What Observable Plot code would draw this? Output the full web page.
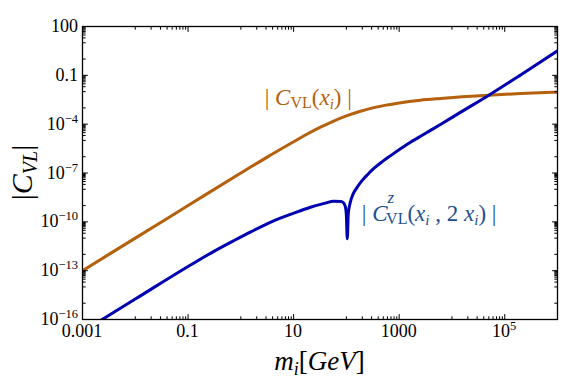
<!DOCTYPE html>
<html><head><meta charset="utf-8">
<script src="https://cdn.jsdelivr.net/npm/d3@7"></script>
<script src="https://cdn.jsdelivr.net/npm/@observablehq/plot@0.6"></script>
<style>html,body{margin:0;padding:0;background:#fff}svg{display:block}</style>
</head><body><div id="chart"></div>
<script>
// |C_VL(x_i)| (orange)
const orangeX = [0.001, 0.01, 0.1, 1, 3.16, 10, 17.8, 31.6, 56.2, 100, 178, 316, 562, 1000, 2510, 6170, 15800, 50100, 200000, 1000000];
const orangeY = [1e-13, 1e-11, 1e-9, 1e-7, 9.5e-7, 8.3e-6, 2.4e-5, 6.3e-5, 1.5e-4, 3.2e-4, 6.0e-4, 1.0e-3, 1.48e-3, 2.02e-3, 2.95e-3, 3.8e-3, 4.8e-3, 6.0e-3, 7.6e-3, 9.3e-3];
// |C^z_VL(x_i, 2x_i)| (blue)
const blueX = [0.001, 0.01, 0.1, 0.316, 0.733, 1.58, 3.98, 10, 20.9, 39.8, 57.5, 79.4, 89.1, 96, 99.5, 104, 108.6, 114.8, 120.2, 131.8, 158.5, 199.5, 251, 331, 479, 692, 1445, 2950, 6170, 15800, 50100, 200000, 1000000];
const blueY = [1.8e-17, 1.8e-15, 1.8e-13, 1.6e-12, 6.9e-12, 2.5e-11, 1.07e-10, 3.4e-10, 7.9e-10, 1.41e-9, 1.86e-9, 1.8e-9, 1.4e-9, 8.0e-10, 3.2e-10, 9.1e-12, 3.2e-10, 1.0e-9, 1.9e-9, 4.5e-9, 1.26e-8, 3.5e-8, 7.9e-8, 1.9e-7, 5.0e-7, 1.17e-6, 6.0e-6, 2.4e-5, 1.0e-4, 6.3e-4, 6.0e-3, 0.105, 3.2];

const xTicks = [0.001, 0.1, 10, 1000, 1e5];
const xTickLabels = [["0.001"], ["0.1"], ["10"], ["1000"], ["10", "5"]];
const yTicks = [100, 0.1, 1e-4, 1e-7, 1e-10, 1e-13, 1e-16];
const yTickLabels = [["100"], ["0.1"], ["10", "\u22124"], ["10", "\u22127"], ["10", "\u221210"], ["10", "\u221213"], ["10", "\u221216"]];

const orangeColor = "#b4600c";
const blueColor = "#0000b0";
const blueText = "#1d4f90";
const FONT = "Liberation Serif, Times New Roman, serif";

const orange = orangeX.map((x, i) => ({x, y: orangeY[i]}));
const blue = blueX.map((x, i) => ({x, y: blueY[i]}));

// minor ticks: every decade, plus 2..9 x 10^(k-1) under each labelled tick
function minorTicks(majors, lo, hi) {
  const out = [];
  for (let e = Math.round(Math.log10(lo)); e <= Math.round(Math.log10(hi)); e++) out.push(Math.pow(10, e));
  majors.forEach(m => { for (let k = 2; k <= 9; k++) { const v = k * m / 10; if (v > lo && v < hi) out.push(v); } });
  return out.filter(v => !majors.some(m => Math.abs(m - v) / m < 1e-9));
}
const xMinor = minorTicks(xTicks, 1e-3, 1e6);
const yMinor = minorTicks(yTicks, 1e-16, 100);

const tickShape = {draw(c, l) { c.moveTo(0, 0); c.lineTo(0, -l); }};
function ticks(vals, len) {
  const common = {length: len, anchor: "start", shape: tickShape, stroke: "black", strokeWidth: 1};
  return [
    Plot.vector(vals.x, {...common, x: d => d, frameAnchor: "bottom", rotate: 0}),
    Plot.vector(vals.x, {...common, x: d => d, frameAnchor: "top", rotate: 180}),
    Plot.vector(vals.y, {...common, y: d => d, frameAnchor: "left", rotate: 90}),
    Plot.vector(vals.y, {...common, y: d => d, frameAnchor: "right", rotate: -90})
  ];
}

const plot = Plot.plot({
  width: 566, height: 385,
  marginTop: 26, marginBottom: 66, marginLeft: 82, marginRight: 9,
  style: {background: "white", fontFamily: FONT},
  x: {type: "log", domain: [1e-3, 1e6], axis: null},
  y: {type: "log", domain: [1e-16, 100], axis: null},
  marks: [
    Plot.line(orange, {x: "x", y: "y", stroke: orangeColor, strokeWidth: 3, clip: true, curve: "monotone-x"}),
    Plot.line(blue, {x: "x", y: "y", stroke: blueColor, strokeWidth: 3, clip: true, curve: "monotone-x"}),
    ...ticks({x: xTicks, y: yTicks}, 5),
    ...ticks({x: xMinor, y: yMinor}, 2.8),
    Plot.frame({stroke: "black", strokeWidth: 1.3})
  ]
});
document.getElementById("chart").appendChild(plot);

const sx = plot.scale("x"), sy = plot.scale("y");
const svg = d3.select(plot);
const g = svg.append("g").attr("font-family", FONT).attr("fill", "black").attr("text-anchor", "start");

// x tick labels
xTicks.forEach((v, i) => {
  const lab = xTickLabels[i];
  const t = g.append("text").attr("x", sx.apply(v)).attr("y", 319 + 18).attr("text-anchor", "middle").attr("font-size", 18);
  t.append("tspan").text(lab[0]);
  if (lab[1]) t.append("tspan").attr("dy", -7).attr("font-size", 12.5).text(lab[1]);
});
// y tick labels
yTicks.forEach((v, i) => {
  const lab = yTickLabels[i];
  const t = g.append("text").attr("x", 78).attr("y", sy.apply(v) + 6).attr("text-anchor", "end").attr("font-size", 18);
  t.append("tspan").text(lab[0]);
  if (lab[1]) t.append("tspan").attr("dy", -7).attr("font-size", 12.5).text(lab[1]);
});

// axis titles
const xt = g.append("text").attr("x", (sx.apply(1e-3) + sx.apply(1e6)) / 2).attr("y", 370).attr("text-anchor", "middle").attr("font-size", 27);
xt.append("tspan").attr("font-style", "italic").text("m");
xt.append("tspan").attr("font-style", "italic").attr("font-size", 18).attr("dy", 5).text("i");
xt.append("tspan").attr("dy", -5).text("[");
xt.append("tspan").attr("font-style", "italic").text("GeV");
xt.append("tspan").text("]");

const yc = (sy.apply(1e-16) + sy.apply(100)) / 2;
const yt = g.append("text").attr("transform", `translate(32,${yc}) rotate(-90)`).attr("text-anchor", "middle").attr("font-size", 30);
yt.append("tspan").text("|");
yt.append("tspan").attr("font-style", "italic").text("C");
yt.append("tspan").attr("font-style", "italic").attr("font-size", 20).attr("dy", 5).text("VL");
yt.append("tspan").attr("dy", -5).text("|");

// curve labels
const ol = g.append("text").attr("x", sx.apply(2.9)).attr("y", sy.apply(1.4e-3)).attr("font-size", 23).attr("fill", orangeColor);
ol.append("tspan").text("| ");
ol.append("tspan").attr("font-style", "italic").text("C");
ol.append("tspan").attr("font-size", 16).attr("dy", 3).text("VL");
ol.append("tspan").attr("dy", -3).text("(");
ol.append("tspan").attr("font-style", "italic").text("x");
ol.append("tspan").attr("font-style", "italic").attr("font-size", 15).attr("dy", 4).text("i");
ol.append("tspan").attr("dy", -4).text(")");
ol.append("tspan").text(" |");

const bl = g.append("text").attr("x", sx.apply(200)).attr("y", sy.apply(1.1e-10)).attr("font-size", 23).attr("fill", blueText);
bl.append("tspan").text("| ");
bl.append("tspan").attr("font-style", "italic").text("C");
bl.append("tspan").attr("font-style", "italic").attr("font-size", 17).attr("dy", -18).attr("dx", 0).text("z");
bl.append("tspan").attr("font-size", 16).attr("dy", 21).attr("dx", -8).text("VL");
bl.append("tspan").attr("dy", -3).text("(");
bl.append("tspan").attr("font-style", "italic").text("x");
bl.append("tspan").attr("font-style", "italic").attr("font-size", 15).attr("dy", 4).text("i");
bl.append("tspan").attr("dy", -4).text(" , 2 ");
bl.append("tspan").attr("font-style", "italic").text("x");
bl.append("tspan").attr("font-style", "italic").attr("font-size", 15).attr("dy", 4).text("i");
bl.append("tspan").attr("dy", -4).text(")");
bl.append("tspan").text(" |");
</script>
</body></html>
